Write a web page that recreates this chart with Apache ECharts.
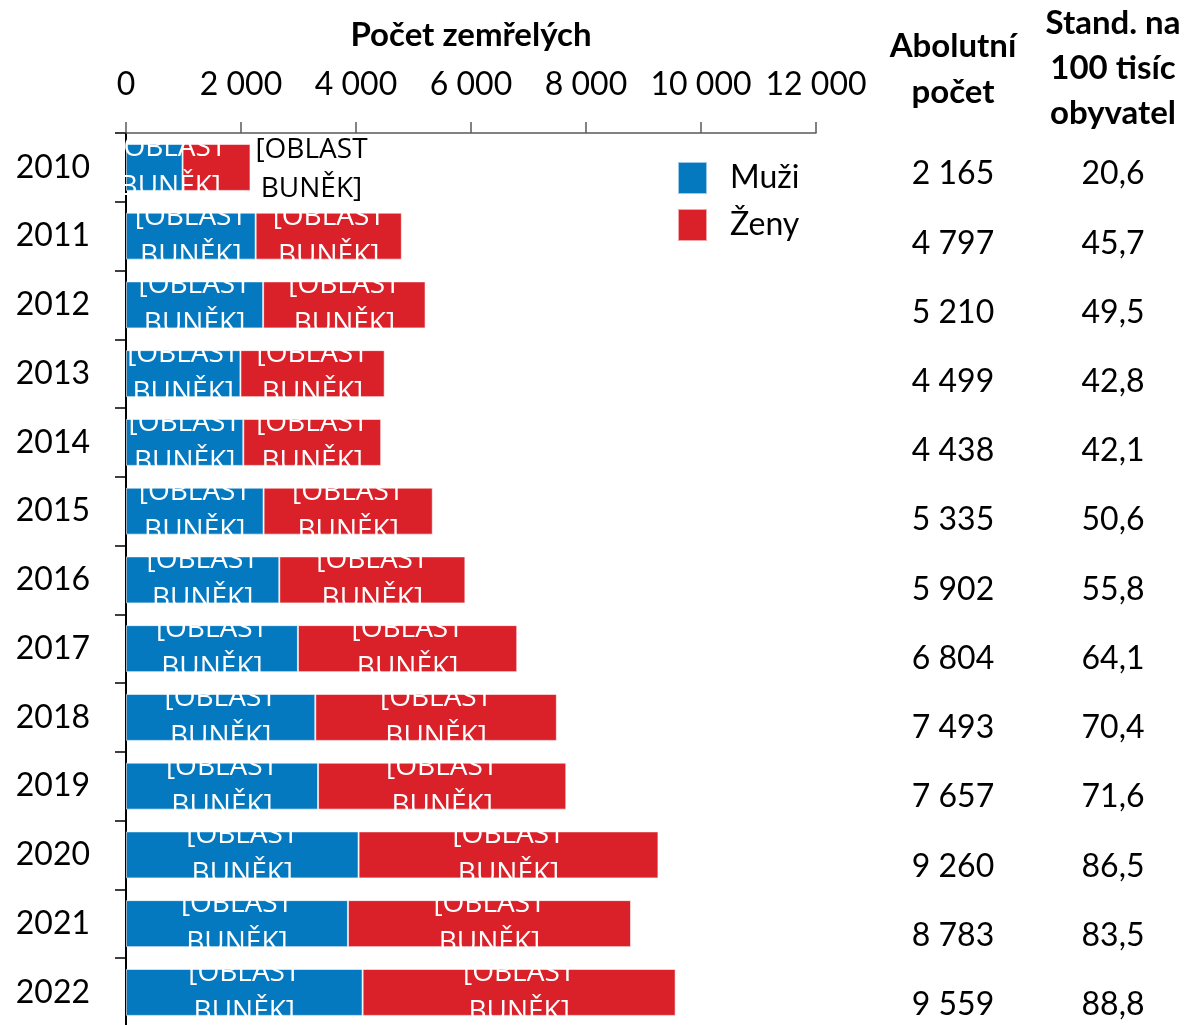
<!DOCTYPE html>
<html>
<head>
<meta charset="utf-8">
<script src="https://cdn.jsdelivr.net/npm/echarts@6/dist/echarts.min.js"></script>
<style>
html,body{margin:0;padding:0;background:#fff;overflow:hidden;}
#chart{width:1188px;height:1045px;}
</style>
</head>
<body>
<div id="chart"></div>
<script>
const years = ['2010','2011','2012','2013','2014','2015','2016','2017','2018','2019','2020','2021','2022'];
const muzi = [984, 2255, 2385, 1990, 2040, 2393, 2666, 2990, 3292, 3340, 4045, 3860, 4115];
const zeny = [1181, 2542, 2825, 2509, 2398, 2942, 3236, 3814, 4201, 4317, 5215, 4923, 5444];
const absolutni = [2165, 4797, 5210, 4499, 4438, 5335, 5902, 6804, 7493, 7657, 9260, 8783, 9559];
const standard = [20.6, 45.7, 49.5, 42.8, 42.1, 50.6, 55.8, 64.1, 70.4, 71.6, 86.5, 83.5, 88.8];
const xTicks = [0, 2000, 4000, 6000, 8000, 10000, 12000];
const cellLabel = '[OBLAST\nBUNĚK]';
const headerAbs = 'Abolutní\npočet';
const headerStd = 'Stand. na\n100 tisíc\nobyvatel';

const FONT = 'Lato';
const fmtThousands = v => String(v).replace(/\B(?=(\d{3})+(?!\d))/g, ' ');
const fmtDec = v => v.toFixed(1).replace('.', ',');

const chart = echarts.init(document.getElementById('chart'));

const labelBase = {
  show: true, position: 'inside', formatter: cellLabel, color: '#fff',
  fontFamily: 'Open Sans', fontSize: 28, lineHeight: 39
};

const muziData = muzi.map((v, i) => i === 0 ? {value: v, label: {offset: [16, 0]}} : v);
const zenyData = zeny.map((v, i) => i === 0 ? {value: v, label: {position: 'right', align: 'center', offset: [56, 2], color: '#000'}} : v);

chart.setOption({
  animation: false,
  backgroundColor: '#fff',
  grid: [
    {left: 126, top: 133, width: 690, height: 893.75, containLabel: false},
    {left: 1000, top: 139.4, width: 10, height: 900, containLabel: false}
  ],
  legend: {
    orient: 'vertical', left: 672, top: 156, itemWidth: 29, itemHeight: 32, itemGap: 13,
    icon: 'rect', data: ['Muži', 'Ženy'],
    textStyle: {fontFamily: FONT, fontSize: 32, color: '#000', padding: [0, 0, 0, 18]}
  },
  xAxis: [
    {
      type: 'value', gridIndex: 0, position: 'top', min: 0, max: 12000, interval: 2000,
      name: 'Počet zemřelých', nameLocation: 'middle', nameGap: 81,
      nameTextStyle: {fontFamily: FONT, fontSize: 33, fontWeight: 'bold', color: '#000'},
      axisLine: {show: true, lineStyle: {color: '#595959', width: 1.5}},
      axisTick: {show: true, inside: false, length: 11, lineStyle: {color: '#595959', width: 1.5}},
      splitLine: {show: false},
      axisLabel: {fontFamily: FONT, fontSize: 32, color: '#000', margin: 32,
        formatter: v => xTicks.includes(v) ? fmtThousands(v) : ''}
    },
    {type: 'value', gridIndex: 1, show: false, min: 0, max: 1}
  ],
  yAxis: [
    {
      type: 'category', gridIndex: 0, inverse: true, data: years,
      axisLine: {show: true, lineStyle: {color: '#000', width: 2}},
      axisTick: {show: true, inside: false, length: 11, lineStyle: {color: '#000', width: 1.5}},
      axisLabel: {fontFamily: FONT, fontSize: 32, color: '#000', margin: 36}
    },
    {
      type: 'category', gridIndex: 1, inverse: true, position: 'left', data: years,
      axisLine: {show: false}, axisTick: {show: false},
      axisLabel: {fontFamily: FONT, fontSize: 32, color: '#000', margin: 47, align: 'center',
        formatter: (v, i) => fmtThousands(absolutni[i])}
    },
    {
      type: 'category', gridIndex: 1, inverse: true, position: 'right', data: years,
      axisLine: {show: false}, axisTick: {show: false},
      axisLabel: {fontFamily: FONT, fontSize: 32, color: '#000', margin: 103, align: 'center',
        formatter: (v, i) => fmtDec(standard[i])}
    }
  ],
  graphic: [
    {type: 'text', x: 953, y: 69, style: {text: headerAbs, fill: '#000',
      font: 'bold 33px Lato', lineHeight: 46, align: 'center', verticalAlign: 'middle',
      textAlign: 'center', textVerticalAlign: 'middle'}},
    {type: 'text', x: 1113, y: 68, style: {text: headerStd, fill: '#000',
      font: 'bold 33px Lato', lineHeight: 45, align: 'center', verticalAlign: 'middle',
      textAlign: 'center', textVerticalAlign: 'middle'}}
  ],
  series: [
    {
      name: 'Muži', type: 'bar', stack: 'total', xAxisIndex: 0, yAxisIndex: 0,
      barWidth: 47, data: muziData,
      itemStyle: {color: '#0579C0', borderColor: 'rgba(255,255,255,0.6)', borderWidth: 1},
      label: labelBase
    },
    {
      name: 'Ženy', type: 'bar', stack: 'total', xAxisIndex: 0, yAxisIndex: 0,
      barWidth: 47, data: zenyData,
      itemStyle: {color: '#DA2028', borderColor: 'rgba(255,255,255,0.6)', borderWidth: 1},
      label: labelBase
    }
  ]
});
</script>
</body>
</html>
